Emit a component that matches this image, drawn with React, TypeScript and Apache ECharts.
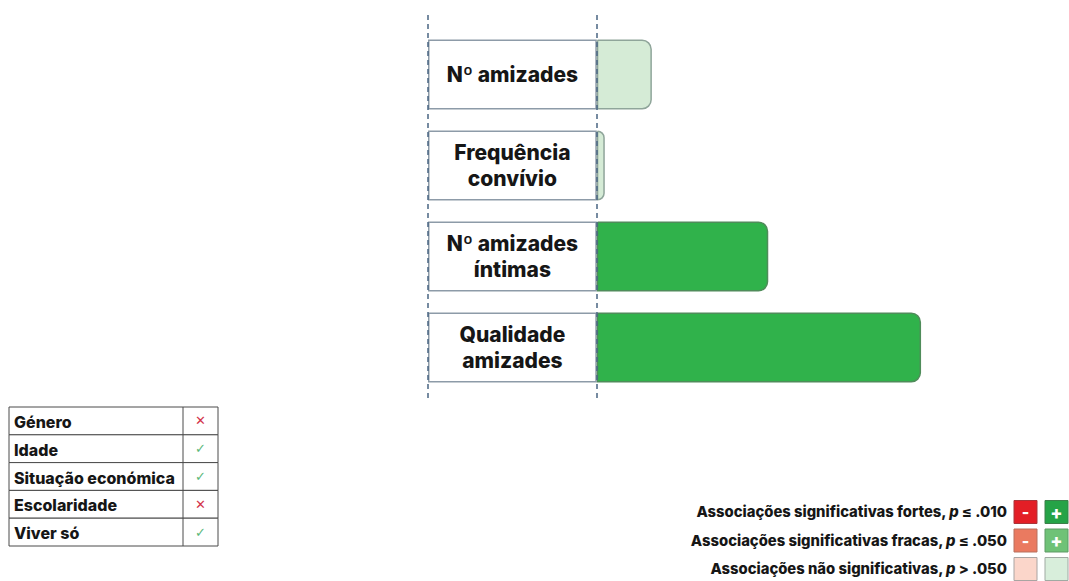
import React, { useEffect, useRef } from "react";
import * as echarts from "echarts";

// ---- data ----
const categories = ["Nº amizades", "Frequência\nconvívio", "Nº amizades\níntimas", "Qualidade\namizades"];
const values = [0.062, 0.009, 0.193, 0.365];
const significance = ["ns", "ns", "strong", "strong"];
const labelBoxValue = -0.19;
const axisMin = -0.19;
const axisMax = 0.5;

const tableLabels = ["Género", "Idade", "Situação económica", "Escolaridade", "Viver só"];
const tableSignificant = [false, true, true, false, true];

const legendTexts = [
  ["Associações significativas fortes, ", "p", " ≤ .010"],
  ["Associações significativas fracas, ", "p", " ≤ .050"],
  ["Associações não significativas, ", "p", " > .050"],
];
const legendKinds = ["strong", "weak", "ns"];

// ---- styles ----
const FONT = "Inter";
const barColors: Record<string, { fill: string; border: string }> = {
  strong: { fill: "#30b24b", border: "#4f8c5a" },
  weak: { fill: "#6cc174", border: "#5c9462" },
  ns: { fill: "#d5ebd6", border: "#8fa59a" },
};
const negColors: Record<string, { fill: string; border: string }> = {
  strong: { fill: "#e31e26", border: "#a8353a" },
  weak: { fill: "#ea7a60", border: "#b8705f" },
  ns: { fill: "#fbd6ca", border: "#a9a4a2" },
};
const posLegendColors: Record<string, { fill: string; border: string }> = {
  strong: { fill: "#25a347", border: "#3c7f4a" },
  weak: { fill: "#6fc277", border: "#5f9a66" },
  ns: { fill: "#d8eedb", border: "#a0aaa3" },
};

export default function App() {
  const ref = useRef<HTMLDivElement>(null);
  useEffect(() => {
    if (!ref.current) return;
    const chart = echarts.init(ref.current, undefined, { renderer: "svg" });

    // table graphic
    const tX = 9, tY = 407, tW = 209, rowH = 27.8, colX = 183;
    const tableChildren: any[] = [];
    tableLabels.forEach((lab, i) => {
      const y = tY + i * rowH;
      tableChildren.push({
        type: "rect",
        shape: { x: tX, y, width: tW, height: rowH },
        style: { fill: "#fff", stroke: "#4a4a4a", lineWidth: 1 },
      });
      tableChildren.push({
        type: "text",
        style: {
          x: tX + 5, y: y + rowH / 2 + 1, text: lab, fill: "#161616",
          font: `800 16px ${FONT}`, verticalAlign: "middle", align: "left",
        },
      });
      tableChildren.push({
        type: "text",
        style: {
          x: (colX + tX + tW) / 2, y: y + rowH / 2, text: tableSignificant[i] ? "✓" : "✕",
          fill: tableSignificant[i] ? "#5cb87a" : "#d3344a",
          font: `${tableSignificant[i] ? 400 : 700} 13px 'DejaVu Sans'`,
          verticalAlign: "middle", align: "center",
        },
      });
    });
    tableChildren.push({
      type: "line",
      shape: { x1: colX, y1: tY, x2: colX, y2: tY + rowH * tableLabels.length },
      style: { stroke: "#4a4a4a", lineWidth: 1 },
    });

    // legend graphic
    const lgRight = 1007, lgY0 = 512, lgStep = 28.5, box = 23, box1X = 1014, box2X = 1045;
    const legendChildren: any[] = [];
    legendTexts.forEach((parts, i) => {
      const cy = lgY0 + i * lgStep;
      const kind = legendKinds[i];
      legendChildren.push({
        type: "text",
        style: {
          x: lgRight, y: cy, align: "right", verticalAlign: "middle",
          text: `{a|${parts[0]}}{p|${parts[1]}}{a|${parts[2]}}`,
          rich: {
            a: { fontFamily: FONT, fontWeight: 800, fontSize: 14.8, fill: "#161616" },
            p: { fontFamily: FONT, fontWeight: 800, fontStyle: "italic", fontSize: 14.8, fill: "#161616" },
          },
        },
      });
      const n = negColors[kind];
      const p = posLegendColors[kind];
      legendChildren.push({
        type: "rect",
        shape: { x: box1X, y: cy - box / 2, width: box, height: box },
        style: { fill: n.fill, stroke: n.border, lineWidth: 1 },
      });
      legendChildren.push({
        type: "rect",
        shape: { x: box2X, y: cy - box / 2, width: box, height: box },
        style: { fill: p.fill, stroke: p.border, lineWidth: 1 },
      });
      if (kind !== "ns") {
        legendChildren.push({
          type: "text",
          style: { x: box1X + box / 2, y: cy, text: "-", fill: "#fff", font: `800 16px ${FONT}`, align: "center", verticalAlign: "middle" },
        });
        legendChildren.push({
          type: "text",
          style: { x: box2X + box / 2, y: cy, text: "+", fill: "#fff", font: `800 18px ${FONT}`, align: "center", verticalAlign: "middle" },
        });
      }
    });

    chart.setOption({
      animation: false,
      grid: [
        { left: 428, right: 28, top: 29, bottom: 188 },
        { left: 428, right: 28, top: 12, bottom: 183 },
      ],
      xAxis: [
        { type: "value", gridIndex: 0, min: axisMin, max: axisMax, show: false },
        { type: "value", gridIndex: 1, min: axisMin, max: axisMax, show: false },
      ],
      yAxis: [
        { type: "category", gridIndex: 0, data: categories, inverse: true, show: false },
        { type: "value", gridIndex: 1, min: 0, max: 1, show: false },
      ],
      series: [
        {
          type: "bar",
          xAxisIndex: 0,
          yAxisIndex: 0,
          barWidth: 70,
          barGap: "-100%",
          data: categories.map(() => labelBoxValue),
          itemStyle: { color: "#ffffff", borderColor: "#8d9ba8", borderWidth: 1.5 },
          label: {
            show: true,
            position: "inside",
            formatter: (p: any) => p.name,
            fontFamily: FONT,
            fontWeight: 800,
            fontSize: 21,
            lineHeight: 26,
            color: "#161616",
          },
          silent: true,
        },
        {
          type: "bar",
          xAxisIndex: 0,
          yAxisIndex: 0,
          barWidth: 70,
          barGap: "-100%",
          data: values.map((v, i) => ({
            value: v,
            itemStyle: {
              color: barColors[significance[i]].fill,
              borderColor: barColors[significance[i]].border,
              borderWidth: 1.5,
              borderRadius: [0, 9, 9, 0],
            },
          })),
          silent: true,
        },
        {
          type: "line",
          xAxisIndex: 1,
          yAxisIndex: 1,
          data: [],
          silent: true,
          z: 10,
          markLine: {
            silent: true,
            symbol: ["none", "none"],
            label: { show: false },
            lineStyle: { color: "#4a6682", width: 1.5, type: [5, 4] },
            data: [{ xAxis: labelBoxValue }, { xAxis: 0 }],
          },
        },
      ],
      graphic: [
        { type: "group", children: tableChildren },
        { type: "group", children: legendChildren },
      ],
    });
    return () => chart.dispose();
  }, []);
  return (
    <div
      ref={ref}
      style={{ position: "absolute", left: 0, top: 0, width: 1069, height: 581, background: "#fff" }}
    />
  );
}
